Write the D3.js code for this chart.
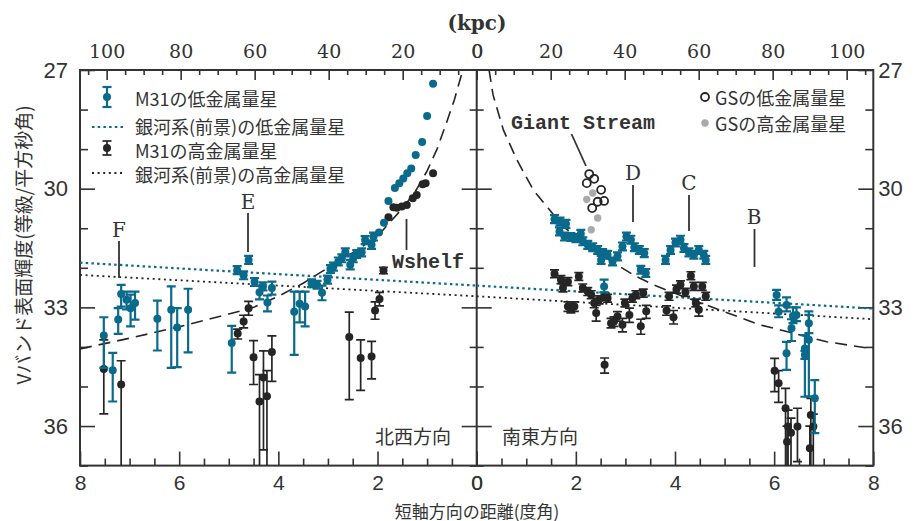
<!DOCTYPE html>
<html>
<head>
<meta charset="utf-8">
<script src="https://cdn.jsdelivr.net/npm/d3@7"></script>
<style>
body { margin: 0; background: #fff; }
text { fill: #333; }
</style>
</head>
<body>
<script>
// [deg, mag] / [deg, mag, err] / [deg, mag, top, bottom]
var nw_low = [
  [0.88,27.35],[1.00,28.16],[1.10,28.82],[1.23,29.15],[1.32,29.49],[1.40,29.61],[1.48,29.74],
  [1.56,29.86],[1.65,29.98],[1.78,30.31],[1.87,30.86],[1.97,31.11],
  [2.08,31.21,0.1],[2.12,31.42,0.1],[2.25,31.30,0.1],[2.32,31.61,0.1],[2.42,31.65,0.1],
  [2.49,31.76,0.1],[2.55,31.92,0.12],[2.65,31.61,0.1],[2.72,31.76,0.1],[2.79,31.84,0.1],
  [2.89,31.97,0.1],[2.95,32.03,0.1],[3.01,32.30,0.1],[3.12,32.63,32.45,32.82],[3.22,32.43,0.1],
  [3.33,32.39,0.1],[3.46,32.98,32.6,33.48],[3.57,32.91,32.6,33.38],[3.68,33.11,32.6,34.2],
  [4.13,32.51,32.35,32.68],[4.22,32.88,32.7,33.1],[4.31,32.47,0.1],[4.38,32.62,32.45,32.8],
  [4.48,32.36,0.1],[4.60,31.80,0.1],[4.70,32.19,0.1],[4.83,32.06,0.1],[4.94,33.90,33.47,34.65],
  [5.82,33.06,32.53,34.14],[6.04,33.51,33.02,34.51],[6.16,33.06,32.47,34.53],[6.44,33.29,32.83,34.09],
  [6.89,32.89,32.6,33.31],[6.98,33.02,32.68,33.48],[7.06,32.81,32.6,33.05],[7.17,32.66,32.43,32.98],
  [7.23,33.31,33.02,33.67],[7.34,34.59,34.15,35.38],[7.52,33.71,33.25,34.53]
];
var nw_high = [
  [0.88,29.61],[1.03,29.86],[1.09,29.89],[1.21,30.16],[1.29,30.24],[1.41,30.41],[1.51,30.45],
  [1.61,30.48],[1.68,30.47],[1.78,30.72],
  [1.88,32.07,0.08],[1.96,32.79,32.62,32.96],[2.05,33.08,32.86,33.3],[2.12,34.24,33.86,34.81],
  [2.34,34.28,33.82,35.1],[2.57,33.75,33.12,35.33],
  [4.13,34.13,33.72,34.87],[4.23,35.25,34.6,38],[4.30,34.77,34.1,36.6],[4.38,35.38,34.7,38],
  [4.50,34.26,33.84,34.95],[4.60,33.02,32.85,33.2],[4.70,33.36,33.2,33.52],[4.82,33.66,33.55,33.8],
  [7.17,34.95,34.35,38],[7.52,34.56,33.82,35.69]
];
var se_low = [
  [1.57,30.77,0.1],[1.68,30.83,0.1],[1.80,30.89,0.1],[1.67,31.08,0.1],[1.77,31.21,0.1],
  [1.90,31.22,0.1],[2.00,31.25,0.1],[2.10,31.14,0.1],[2.14,31.33,0.1],[2.24,31.42,0.1],
  [2.34,31.48,0.1],[2.44,31.55,0.1],[2.54,31.63,0.1],[2.64,31.67,0.1],[2.51,31.80,0.1],
  [2.74,31.84,0.1],[2.84,31.71,0.1],[2.94,31.46,0.1],[3.02,31.21,0.1],[3.11,31.29,0.1],
  [3.18,31.48,0.1],[3.28,31.55,0.1],[3.38,31.63,0.1],[3.31,32.05,0.1],[3.41,32.13,0.1],
  [3.81,31.80,0.1],[3.91,31.55,0.1],[4.01,31.36,0.1],[4.11,31.29,0.1],[4.18,31.50,0.1],
  [4.28,31.61,0.1],[4.38,31.67,0.1],[4.48,31.55,0.1],[4.58,31.67,0.1],[4.62,31.80,0.1],
  [2.57,32.47,32.3,32.62],
  [6.05,32.69,32.56,32.81],[6.09,33.11,32.95,33.25],[6.25,32.94,32.75,33.1],[6.35,33.53,33.3,33.85],
  [6.38,33.22,33.0,33.4],[6.45,33.19,33.0,33.35],[6.25,34.16,33.87,34.58],[6.62,34.04,33.70,35.26],
  [6.62,34.20,0.1],[6.70,33.40,33.1,33.65],[6.70,33.82,33.19,35.25],[6.82,35.30,34.84,36.18]
];
var se_high = [
  [1.57,32.15,0.1],[1.70,32.30,0.1],[1.74,32.51,0.1],[1.84,32.35,0.1],[1.84,32.98,0.12],
  [1.90,33.02,0.12],[1.97,32.98,0.12],[2.06,32.22,0.1],[2.14,32.51,0.1],[2.24,32.60,0.1],
  [2.31,32.68,0.1],[2.37,32.89,0.12],[2.41,33.14,32.95,33.35],[2.47,32.81,0.1],[2.57,32.72,0.1],
  [2.64,32.77,0.1],[2.71,33.40,0.12],[2.77,33.36,0.12],[2.84,33.23,0.12],[2.94,33.44,33.28,33.62],
  [2.99,32.89,0.1],[3.08,33.19,33.02,33.38],[3.14,32.77,0.1],[3.21,32.68,0.1],[3.31,33.48,33.3,33.68],
  [3.36,32.64,0.1],[3.42,33.10,32.95,33.28],[3.83,33.08,0.12],[3.88,32.72,0.1],[3.97,33.25,33.08,33.42],
  [4.03,32.54,0.1],[4.11,32.43,0.1],[4.21,32.62,0.1],[4.32,32.20,0.1],[4.38,32.47,0.1],
  [4.42,32.89,0.1],[4.48,33.06,32.9,33.22],[4.55,32.47,0.1],[4.62,32.72,0.1],
  [2.58,34.45,34.28,34.66],
  [6.01,34.60,34.29,35.13],[6.09,34.92,34.6,35.4],[6.23,35.55,35.05,38],[6.28,36.01,35.6,38],
  [6.34,36.17,35.8,38],[6.26,36.40,36.0,38],[6.47,36.01,35.55,36.9],[6.74,35.72,35.3,38],
  [6.79,36.01,35.7,38],[6.72,36.56,36.0,38]
];
var gs_low = [[2.27,29.63],[2.37,29.75],[2.22,29.86],[2.51,30.03],[2.44,30.33],[2.57,30.31],[2.33,30.49]];
var gs_high = [[2.34,30.11],[2.22,30.27],[2.44,30.74],[2.31,31.04]];

// dashed model
var nw_model = [[8,34.05],[7,33.78],[6,33.49],[5,33.17],[4.5,33.0],[4,32.72],[3.5,32.39],[3,32.0],
  [2.5,31.62],[2,31.2],[1.75,30.85],[1.5,30.5],[1.25,30.1],[1,29.55],[0.8,29.0],[0.6,28.3],
  [0.45,27.75],[0.28,27.0]];
var se_model = [[0.25,27],[0.33,27.63],[0.54,28.52],[0.81,29.27],[1.14,30.03],[1.44,30.49],
  [1.75,30.96],[2.22,31.42],[2.62,31.76],[3.16,32.18],[3.56,32.43],[3.9,32.6],[4.63,32.94],
  [5.71,33.44],[6.38,33.65],[7.06,33.87],[8,34.05]];

// foreground (Milky Way) levels
var nw_fg_low = [[8,31.87],[0,32.45]], se_fg_low = [[0,32.45],[8,33.03]];
var nw_fg_high = [[8,32.18],[0,32.72]], se_fg_high = [[0,32.72],[8,33.3]];

var mag_labels = [27, 30, 33, 36];
var deg_labels = [0, 2, 4, 6, 8];
var kpc_labels = [0, 20, 40, 60, 80, 100];
var kpc_per_deg = 13.4;

var blue = "#0a6a8c", black = "#252525", grey = "#aaaaaa";

var width = 915, height = 521,
    p_left = 80, p_mid = 476.7, p_right = 873.3, p_top = 70, p_bottom = 465.6;

var x_nw = d3.scaleLinear().domain([8, 0]).range([p_left, p_mid]),
    x_se = d3.scaleLinear().domain([0, 8]).range([p_mid, p_right]),
    k_nw = d3.scaleLinear().domain([8 * kpc_per_deg, 0]).range([p_left, p_mid]),
    k_se = d3.scaleLinear().domain([0, 8 * kpc_per_deg]).range([p_mid, p_right]),
    y = d3.scaleLinear().domain([27, 37]).range([p_top, p_bottom]);

var svg = d3.select("body").append("svg")
    .attr("width", width)
    .attr("height", height)
    .style("font-family", "'Liberation Sans', sans-serif");

svg.append("defs").append("clipPath").attr("id", "plot")
  .append("rect").attr("x", p_left).attr("y", p_top)
    .attr("width", p_right - p_left).attr("height", p_bottom - p_top);

var mag_all = d3.range(27, 38),
    deg_all = d3.range(0, 8.01, 0.5),
    kpc_all = d3.range(0, 106, 5);

function is_major_mag(d) { return mag_labels.indexOf(d) >= 0; }

// ---- axes
function style_axis(g) {
  g.select(".domain").remove();
  g.selectAll(".tick line").attr("stroke", "#333").attr("stroke-width", 1.6);
  g.selectAll(".tick text").style("fill", "#333");
}

[[x_nw, k_nw], [x_se, k_se]].forEach(function(p) {
  var xs = p[0], ks = p[1];
  // bottom minor / major
  svg.append("g").attr("transform", "translate(0," + p_bottom + ")")
      .call(d3.axisBottom(xs).tickValues(deg_all.filter(function(d) { return d % 2 != 0; }))
        .tickSize(-7).tickFormat(""))
      .call(style_axis);
  svg.append("g").attr("transform", "translate(0," + p_bottom + ")")
      .call(d3.axisBottom(xs).tickValues(deg_labels).tickSize(-14).tickPadding(9)
        .tickFormat(d3.format("d")))
      .call(style_axis)
      .selectAll("text").style("font-size", "21px");
  // top kpc
  svg.append("g").attr("transform", "translate(0," + p_top + ")")
      .call(d3.axisTop(ks).tickValues(kpc_all.filter(function(d) { return d % 20 != 0; }))
        .tickSize(-5).tickFormat(""))
      .call(style_axis);
  svg.append("g").attr("transform", "translate(0," + p_top + ")")
      .call(d3.axisTop(ks).tickValues(kpc_labels).tickSize(-10).tickPadding(12)
        .tickFormat(d3.format("d")))
      .call(style_axis)
      .selectAll("text").style("font-size", "19px").style("font-family", "'DejaVu Serif', serif");
});

// left axis
svg.append("g").attr("transform", "translate(" + p_left + ",0)")
    .call(d3.axisLeft(y).tickValues(mag_all.filter(function(d) { return !is_major_mag(d); }))
      .tickSize(-8).tickFormat(""))
    .call(style_axis);
svg.append("g").attr("transform", "translate(" + p_left + ",0)")
    .call(d3.axisLeft(y).tickValues(mag_labels).tickSize(-15).tickPadding(12).tickFormat(d3.format("d")))
    .call(style_axis)
    .selectAll("text").style("font-size", "22px");
// right axis
svg.append("g").attr("transform", "translate(" + p_right + ",0)")
    .call(d3.axisRight(y).tickValues(mag_all.filter(function(d) { return !is_major_mag(d); }))
      .tickSize(-8).tickFormat(""))
    .call(style_axis);
svg.append("g").attr("transform", "translate(" + p_right + ",0)")
    .call(d3.axisRight(y).tickValues(mag_labels).tickSize(-15).tickPadding(5).tickFormat(d3.format("d")))
    .call(style_axis)
    .selectAll("text").style("font-size", "22px");
// middle axis, ticks on both sides
[d3.axisLeft, d3.axisRight].forEach(function(ax) {
  svg.append("g").attr("transform", "translate(" + p_mid + ",0)")
      .call(ax(y).tickValues(mag_all.filter(function(d) { return !is_major_mag(d); }))
        .tickSize(7).tickFormat(""))
      .call(style_axis);
  svg.append("g").attr("transform", "translate(" + p_mid + ",0)")
      .call(ax(y).tickValues(mag_labels.slice(1)).tickSize(15).tickFormat(""))
      .call(style_axis);
});

// frame
svg.append("rect").attr("x", p_left).attr("y", p_top)
    .attr("width", p_right - p_left).attr("height", p_bottom - p_top)
    .attr("fill", "none").attr("stroke", "#333").attr("stroke-width", 2);
svg.append("line").attr("x1", p_mid).attr("x2", p_mid).attr("y1", p_top).attr("y2", p_bottom)
    .attr("stroke", "#333").attr("stroke-width", 2);

// ---- lines
var plot = svg.append("g").attr("clip-path", "url(#plot)");

function draw_line(xs, data, color, dash, sw) {
  plot.append("path")
      .datum(data)
      .attr("d", d3.line().x(function(d) { return xs(d[0]); }).y(function(d) { return y(d[1]); }))
      .attr("fill", "none")
      .attr("stroke", color)
      .attr("stroke-width", sw)
      .attr("stroke-dasharray", dash);
}
draw_line(x_nw, nw_fg_low, blue, "2.5,3.2", 2.2);
draw_line(x_se, se_fg_low, blue, "2.5,3.2", 2.2);
draw_line(x_nw, nw_fg_high, black, "2,3.6", 1.8);
draw_line(x_se, se_fg_high, black, "2,3.6", 1.8);
draw_line(x_nw, nw_model, black, "12,7", 1.6);
draw_line(x_se, se_model, black, "12,7", 1.6);

// ---- points
function bounds(d) {
  if (d.length == 4) return [d[2], d[3]];
  var e = d[2] || 0;
  return [d[1] - e, d[1] + e];
}

function draw_points(xs, data, color, sw) {
  var g = plot.selectAll(null)
      .data(data)
    .enter().append("g")
      .attr("stroke", color)
      .attr("stroke-width", sw);
  g.filter(function(d) { var b = bounds(d); return b[1] > b[0]; })
    .each(function(d) {
      var b = bounds(d), cx = xs(d[0]), sel = d3.select(this);
      sel.append("line").attr("x1", cx).attr("x2", cx).attr("y1", y(b[0])).attr("y2", y(b[1]));
      b.forEach(function(v) {
        sel.append("line").attr("x1", cx - 4.5).attr("x2", cx + 4.5).attr("y1", y(v)).attr("y2", y(v));
      });
    });
  g.append("circle")
      .attr("cx", function(d) { return xs(d[0]); })
      .attr("cy", function(d) { return y(d[1]); })
      .attr("r", 4)
      .attr("stroke", "none")
      .attr("fill", color);
}
draw_points(x_nw, nw_high, black, 1.7);
draw_points(x_se, se_high, black, 1.7);
draw_points(x_nw, nw_low, blue, 2.2);
draw_points(x_se, se_low, blue, 2.2);

plot.selectAll(".gs_high")
    .data(gs_high)
  .enter().append("circle")
    .attr("cx", function(d) { return x_se(d[0]); })
    .attr("cy", function(d) { return y(d[1]); })
    .attr("r", 3.7)
    .attr("fill", grey);
plot.selectAll(".gs_low")
    .data(gs_low)
  .enter().append("circle")
    .attr("cx", function(d) { return x_se(d[0]); })
    .attr("cy", function(d) { return y(d[1]); })
    .attr("r", 4)
    .attr("fill", "none")
    .attr("stroke", black)
    .attr("stroke-width", 1.8);

// ---- annotations
function label(x, yy, txt, font, size, weight) {
  svg.append("text").attr("x", x).attr("y", yy)
      .attr("text-anchor", "middle")
      .attr("dominant-baseline", "central")
      .style("font-family", font)
      .style("font-size", size + "px")
      .style("font-weight", weight || "normal")
      .text(txt);
}
function tick_line(x1, y1, x2, y2) {
  svg.append("line").attr("x1", x1).attr("y1", y1).attr("x2", x2).attr("y2", y2)
      .attr("stroke", "#333").attr("stroke-width", 1.8);
}
var serif = "'DejaVu Serif', serif", mono = "'Liberation Mono', monospace",
    jp = "'Noto Sans CJK JP', sans-serif";

label(119, 230, "F", serif, 20); tick_line(119, 241, 119, 278);
label(248, 202, "E", serif, 20); tick_line(248, 213, 248, 252);
label(428, 262, "Wshelf", mono, 20, "bold"); tick_line(406.5, 219, 406.5, 250);
label(583, 123, "Giant Stream", mono, 20, "bold"); tick_line(571.5, 134, 586, 166);
label(633, 173, "D", serif, 20); tick_line(633, 185, 633, 222);
label(689, 183, "C", serif, 20); tick_line(689, 195, 689, 231);
label(754, 217, "B", serif, 20); tick_line(754.5, 229, 754.5, 267);

label(413, 435, "北西方向", jp, 19);
label(540, 435, "南東方向", jp, 19);

label(477, 23, "(kpc)", serif, 20, "bold");

svg.append("text")
    .attr("x", 477).attr("y", 510)
    .attr("text-anchor", "middle").attr("dominant-baseline", "central")
    .style("font-family", jp).style("font-size", "17px")
    .text("短軸方向の距離(度角)");
svg.append("text")
    .attr("transform", "translate(22,245) rotate(-90)")
    .attr("text-anchor", "middle").attr("dominant-baseline", "central")
    .style("font-family", jp).style("font-size", "19px")
    .text("Vバンド表面輝度(等級/平方秒角)");

// ---- legend (left)
var leg = svg.append("g");
function leg_marker(cx, cy, color, half, sw) {
  var g = leg.append("g").attr("stroke", color).attr("stroke-width", sw);
  g.append("line").attr("x1", cx).attr("x2", cx).attr("y1", cy - half).attr("y2", cy + half);
  g.append("line").attr("x1", cx - 4.5).attr("x2", cx + 4.5).attr("y1", cy - half).attr("y2", cy - half);
  g.append("line").attr("x1", cx - 4.5).attr("x2", cx + 4.5).attr("y1", cy + half).attr("y2", cy + half);
  leg.append("circle").attr("cx", cx).attr("cy", cy).attr("r", 4).attr("fill", color);
}
function leg_text(x, yy, txt) {
  leg.append("text").attr("x", x).attr("y", yy).attr("dominant-baseline", "central")
      .style("font-family", jp).style("font-size", "18px").text(txt);
}
leg_marker(107, 97, blue, 10, 2.2);
leg_text(135, 98, "M31の低金属量星");
leg.append("line").attr("x1", 92).attr("x2", 125).attr("y1", 127).attr("y2", 127)
    .attr("stroke", blue).attr("stroke-width", 2.2).attr("stroke-dasharray", "2.5,3.2");
leg_text(135, 126, "銀河系(前景)の低金属量星");
leg_marker(107, 148, black, 7, 1.7);
leg_text(135, 150, "M31の高金属量星");
leg.append("line").attr("x1", 92).attr("x2", 125).attr("y1", 173).attr("y2", 173)
    .attr("stroke", black).attr("stroke-width", 1.8).attr("stroke-dasharray", "2,3.6");
leg_text(135, 174, "銀河系(前景)の高金属量星");

// legend (GS)
leg.append("circle").attr("cx", 705).attr("cy", 97).attr("r", 4)
    .attr("fill", "none").attr("stroke", black).attr("stroke-width", 1.8);
leg_text(715, 97, "GSの低金属量星");
leg.append("circle").attr("cx", 705).attr("cy", 123).attr("r", 3.7).attr("fill", grey);
leg_text(715, 123, "GSの高金属量星");
</script>
</body>
</html>
